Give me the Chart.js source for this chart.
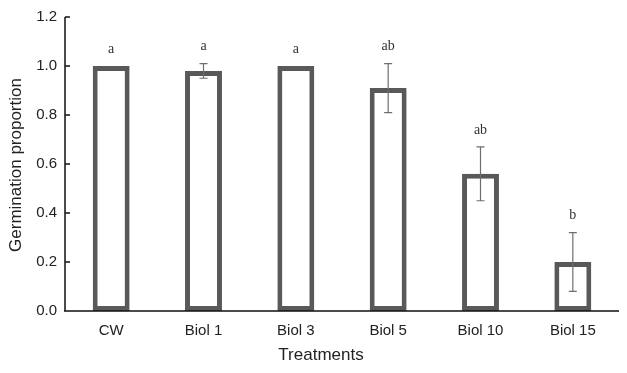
<!DOCTYPE html>
<html lang="en">
<head>
<meta charset="UTF-8">
<title>germination</title>
<style>
  body { margin: 0; padding: 0; background: #fff; }
  #wrap { width: 627px; height: 373px; }
</style>
</head>
<body>
<div id="wrap"><canvas id="germChart" width="627" height="373"></canvas></div>
<script src="https://cdn.jsdelivr.net/npm/chart.js"></script>
<script>
  // data
  var treatments = ['CW', 'Biol 1', 'Biol 3', 'Biol 5', 'Biol 10', 'Biol 15'];
  var germination = [1.0, 0.98, 1.0, 0.91, 0.56, 0.20];
  var errLow = [1.0, 0.95, 1.0, 0.81, 0.45, 0.08];
  var errHigh = [1.0, 1.01, 1.0, 1.01, 0.67, 0.32];
  var groupLetters = ['a', 'a', 'a', 'ab', 'ab', 'b'];
  var yMin = 0, yMax = 1.2, yStep = 0.2;

  var narrow = '"Liberation Sans Narrow", "Arial Narrow", "Liberation Sans", Arial, sans-serif';

  // error bars, letters, inward ticks and axis titles
  var extras = {
    id: 'extras',
    afterDatasetsDraw: function (chart) {
      var ctx = chart.ctx, x = chart.scales.x, y = chart.scales.y, area = chart.chartArea;
      ctx.save();
      // error bars
      ctx.strokeStyle = '#6e6e6e';
      ctx.lineWidth = 1.2;
      for (var i = 0; i < treatments.length; i++) {
        if (errHigh[i] === errLow[i]) continue;
        var cx = x.getPixelForValue(i);
        var yh = y.getPixelForValue(errHigh[i]), yl = y.getPixelForValue(errLow[i]);
        ctx.beginPath();
        ctx.moveTo(cx, yh); ctx.lineTo(cx, yl);
        ctx.moveTo(cx - 4, yh); ctx.lineTo(cx + 4, yh);
        ctx.moveTo(cx - 4, yl); ctx.lineTo(cx + 4, yl);
        ctx.stroke();
      }
      // significance letters
      ctx.fillStyle = '#333';
      ctx.font = '14px "Liberation Serif", "Times New Roman", serif';
      ctx.textAlign = 'center';
      ctx.textBaseline = 'middle';
      for (var j = 0; j < treatments.length; j++) {
        var top = Math.max(errHigh[j], germination[j]);
        ctx.fillText(groupLetters[j], x.getPixelForValue(j), y.getPixelForValue(top) - 17);
      }
      // axis lines and inward ticks
      ctx.strokeStyle = '#111';
      ctx.lineWidth = 1.5;
      ctx.beginPath();
      ctx.moveTo(area.left, area.top); ctx.lineTo(area.left, area.bottom);
      ctx.moveTo(area.left - 1, area.bottom); ctx.lineTo(area.right, area.bottom);
      for (var v = yMin; v <= yMax + 1e-9; v += yStep) {
        var py = y.getPixelForValue(v);
        ctx.moveTo(area.left, py); ctx.lineTo(area.left + 5, py);
      }
      ctx.stroke();
      // axis titles
      ctx.fillStyle = '#222';
      ctx.font = '17px ' + narrow;
      ctx.fillText('Treatments', area.left + 256, 355);
      ctx.translate(16, 165);
      ctx.rotate(-Math.PI / 2);
      ctx.fillText('Germination proportion', 0, 0);
      ctx.restore();
    }
  };

  var ctx = document.getElementById('germChart').getContext('2d');
  new Chart(ctx, {
    type: 'bar',
    data: {
      labels: treatments,
      datasets: [{
        data: germination,
        backgroundColor: '#ffffff',
        borderColor: '#595959',
        borderWidth: 5,
        borderSkipped: false,
        categoryPercentage: 1.0,
        barPercentage: 0.4
      }]
    },
    options: {
      responsive: false,
      animation: false,
      layout: { padding: { top: 6, right: 8, left: 0, bottom: 0 } },
      plugins: { legend: { display: false }, tooltip: { enabled: false } },
      scales: {
        x: {
          grid: { display: false, drawTicks: false },
          border: { display: false },
          ticks: { color: '#222', font: { family: narrow, size: 15 }, padding: 11 },
          afterFit: function (s) { s.height = 62; }
        },
        y: {
          min: yMin, max: yMax,
          grid: { display: false, drawTicks: false },
          border: { display: false },
          ticks: {
            stepSize: yStep, color: '#222', padding: 8,
            font: { family: narrow, size: 15 },
            callback: function (v) { return Number(v).toFixed(1); }
          },
          afterFit: function (s) { s.width = 65; }
        }
      }
    },
    plugins: [extras]
  });
</script>
</body>
</html>
